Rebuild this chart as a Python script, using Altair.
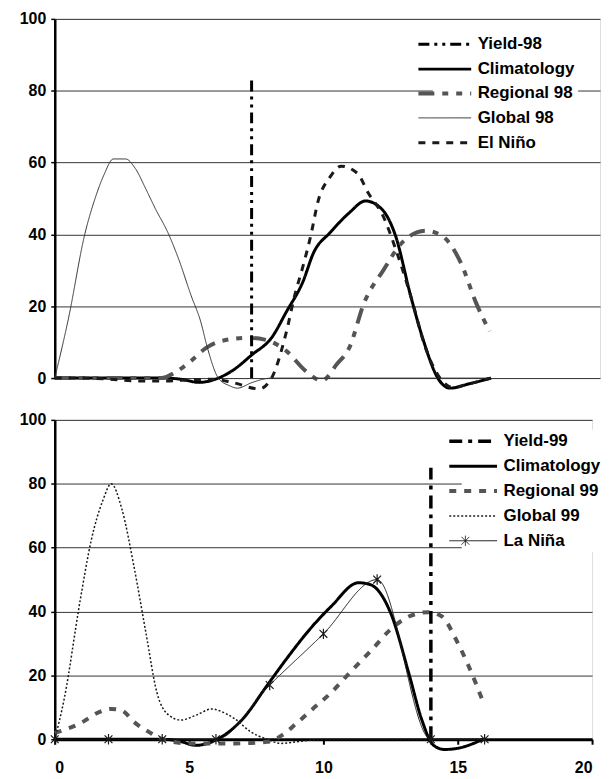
import altair as alt
import pandas as pd

FONT = "Liberation Sans"

# ---------------- 1998 panel ----------------
series98 = ["Yield-98", "Climatology", "Regional 98", "Global 98", "El Niño"]
colors98 = ["#000000", "#000000", "#555555", "#333333", "#1a1a1a"]
dashes98 = [[11, 5, 3, 5, 3, 5], [1, 0], [16, 8, 6, 8, 6, 8], [1, 0], [7, 7]]
widths98 = [3, 3, 4, 1, 3]

yield98_x = [7.22, 7.22]
yield98_y = [0, 84]

clim98_x = [0, 1, 2, 3, 4, 4.6, 5.3, 6.0, 6.5, 7.25, 7.95, 8.5, 9.1, 9.5, 10.1, 10.8,
            11.4, 12.0, 12.5, 13.05, 13.5, 14.05, 14.5, 15.2, 16]
clim98_y = [0, 0, 0, 0, 0, -0.3, -1.2, 0, 2, 6.6, 11.2, 18.5, 26.8, 35, 40.5, 46,
            49.3, 47, 39.6, 23, 11, 0, -2.8, -1.6, 0]

reg98_x = [0, 1, 2, 3, 3.9, 4.5, 5.0, 5.55, 6.1, 7.1, 7.7, 8.5, 9.2, 9.8, 10.35, 10.8,
           11.35, 12.05, 12.75, 13.6, 14.2, 14.9, 15.45, 15.95]
reg98_y = [0, 0, 0, 0, 0, 2, 4.8, 8.4, 10.3, 11.2, 10.7, 7.5, 2, -0.7, 3.9, 8.4,
           21, 30, 37.8, 41, 39.6, 32, 21, 13]

glob98_x = [0, 0.5, 1.1, 1.5, 1.8, 2.15, 2.6, 2.95, 3.35, 3.7, 4.15, 4.55, 5.0, 5.35,
            5.6, 6.0, 6.4, 6.7, 7.25, 7.95, 9, 12, 16]
glob98_y = [0, 16.5, 40, 50.5, 56.5, 61, 61, 58.4, 52.5, 47, 40.5, 33, 23, 15.8,
            8.4, 0, -2.1, -2.8, -1.2, 0, 0, 0, 0]

nino_x = [0, 1, 2, 3, 4, 5, 5.8, 6.5, 7.5, 7.95, 8.5, 8.8, 9.1, 9.4, 9.65, 10.1, 10.5,
          11.1, 11.5, 12.05, 12.5, 13.05, 13.6, 14.2, 14.6, 15.2, 16]
nino_y = [0, 0, -0.3, -0.8, -0.8, -0.5, -0.3, -1.2, -3, 0, 13, 23, 31, 40, 49, 56, 59,
          57, 51.5, 45, 36, 23, 8.4, -0.7, -2.6, -1.6, 0]

# ---------------- 1999 panel ----------------
series99 = ["Yield-99", "Climatology", "Regional 99", "Global 99", "La Niña"]
colors99 = ["#000000", "#000000", "#555555", "#1a1a1a", "#1a1a1a"]
dashes99 = [[13, 6, 4, 6], [1, 0], [7, 8], [2, 2], [1, 0]]
widths99 = [3.5, 3, 4, 1.5, 1]

yield99_x = [14, 14]
yield99_y = [0, 85]

clim99_x = [0, 1, 2, 3, 4, 4.6, 5.25, 6.05, 7.0, 7.9, 8.7, 9.45, 10.3, 11.3, 11.75,
            12.5, 13.2, 13.65, 14.1, 14.5, 14.95, 15.95]
clim99_y = [0, 0, 0, 0, 0, -0.5, -1.9, 0, 6.4, 16.8, 26, 34, 41.7, 49, 48.4,
            39.6, 20, 6.4, -1.9, -3.2, -2.9, 0]

reg99_x = [0, 0.95, 1.65, 2.1, 2.5, 2.95, 3.5, 4.0, 5.0, 6.0, 6.7, 7.9, 8.45, 9.0, 9.6,
           10.3, 11.0, 11.8, 12.5, 13.2, 13.9, 14.4, 14.95, 15.4, 15.95]
reg99_y = [2, 5, 8.5, 9.5, 9, 5.4, 2.3, 0, -1.3, -1.3, -1.3, -0.8, 1.2, 5, 9.5,
           14.7, 21, 28, 34.4, 38.5, 39.8, 38.5, 31, 23, 11.6]

glob99_x = [0, 0.35, 0.95, 1.35, 1.8, 2.1, 2.5, 2.95, 3.4, 3.8, 4.25, 4.7, 5.25, 5.85,
            6.1, 6.7, 7.3, 7.9, 8.4, 9.0, 10, 12, 14, 16]
glob99_y = [0, 12.6, 43.7, 62, 75, 80, 72, 54, 33, 14.7, 7.5, 6, 7.5, 9.5,
            9, 6.4, 2.3, 0, -1.3, -0.8, 0, 0, 0, 0]

nina_x = [0, 2, 4, 6, 8, 10, 12, 14, 16]
nina_y = [0, 0, 0, 0, 17, 33, 50, 0, 0]

y_ticks = [0, 20, 40, 60, 80, 100]
x_ticks = [0, 5, 10, 15, 20]

ASTERISK = "M0,-1L0,1M-0.75,-0.75L0.75,0.75M-0.75,0.75L0.75,-0.75"
LEG_LINE = "M-4,0L4,0"
LEG_LINE_STAR = ("M-4,0L4,0M-1.3,-0.85L-1.3,0.85M-1.95,-0.65L-0.65,0.65"
                 "M-1.95,0.65L-0.65,-0.65")


def frame(name, xs, ys):
    return pd.DataFrame({"series": name, "x": xs, "y": ys})


y_axis = alt.Axis(values=y_ticks, title=None, labelFont=FONT, labelFontSize=16,
                  labelFontWeight="bold", labelColor="black", labelPadding=5,
                  tickSize=4, tickColor="black", tickWidth=1.5,
                  domainColor="black", domainWidth=2.5,
                  gridColor="#333333", gridWidth=1)

x_axis_bottom = alt.Axis(values=x_ticks, title=None, grid=False, labelFont=FONT,
                         labelFontSize=16, labelFontWeight="bold", labelColor="black",
                         labelPadding=15, tickSize=5, tickWidth=2, tickColor="black",
                         domainColor="black", domainWidth=3)

X_SCALE = alt.Scale(domain=[0, 20], nice=False)
Y_SCALE = alt.Scale(domain=[0, 100], nice=False)


def make_legend(legend_x, legend_y, sym_size, label_offset):
    return alt.Legend(title=None, orient="none", legendX=legend_x, legendY=legend_y,
                      symbolType=LEG_LINE, symbolSize=sym_size, symbolOpacity=1,
                      labelFont=FONT, labelFontSize=17, labelFontWeight="bold",
                      labelColor="black", fillColor="white", padding=3, rowPadding=7,
                      labelOffset=label_offset, labelLimit=200)


def panel(series, colors, dashes, widths, yield_df, curve_df, width, height,
          x_axis, legend, extra=None):
    if x_axis is None:
        xenc = alt.X("x:Q", scale=X_SCALE, axis=None)
    else:
        xenc = alt.X("x:Q", scale=X_SCALE, axis=x_axis)
    enc = dict(
        x=xenc,
        y=alt.Y("y:Q", scale=Y_SCALE, axis=y_axis),
        color=alt.Color("series:N", scale=alt.Scale(domain=series, range=colors),
                        legend=legend),
        strokeDash=alt.StrokeDash("series:N",
                                  scale=alt.Scale(domain=series, range=dashes),
                                  legend=legend),
        strokeWidth=alt.StrokeWidth("series:N",
                                    scale=alt.Scale(type="ordinal", domain=series,
                                                    range=widths),
                                    legend=legend),
    )
    curves = alt.Chart(curve_df).mark_line(interpolate="monotone", strokeCap="butt").encode(**enc)
    yl = alt.Chart(yield_df).mark_line(strokeCap="butt").encode(
        order=alt.Order("y:Q"), **enc)
    layers = [curves, yl]
    if extra is not None:
        layers.extend(extra)
    return alt.layer(*layers).properties(width=width, height=height)


top_curves = pd.concat([
    frame("Climatology", clim98_x, clim98_y),
    frame("Regional 98", reg98_x, reg98_y),
    frame("Global 98", glob98_x, glob98_y),
    frame("El Niño", nino_x, nino_y),
], ignore_index=True)
top_yield = frame("Yield-98", yield98_x, yield98_y)

bot_curves = pd.concat([
    frame("Climatology", clim99_x, clim99_y),
    frame("Regional 99", reg99_x, reg99_y),
    frame("Global 99", glob99_x, glob99_y),
    frame("La Niña", nina_x, nina_y),
], ignore_index=True)
bot_yield = frame("Yield-99", yield99_x, yield99_y)

legend98 = make_legend(380, 14, 176, 24)
legend99 = make_legend(409, 10, 144, 22)

nina_pts = alt.Chart(frame("La Niña", nina_x, nina_y)).mark_point(
    shape=ASTERISK, size=110, filled=False, stroke="#1a1a1a", strokeWidth=1.2, opacity=1
).encode(
    x=alt.X("x:Q", scale=X_SCALE),
    y=alt.Y("y:Q", scale=Y_SCALE),
)

# invisible layer that only contributes the legend symbol shapes (asterisk for La Niña)
legend_shapes = alt.Chart(frame("La Niña", nina_x, nina_y)).transform_filter(
    "false"
).mark_point(filled=False, opacity=1).encode(
    x=alt.X("x:Q", scale=X_SCALE),
    y=alt.Y("y:Q", scale=Y_SCALE),
    shape=alt.Shape("series:N",
                    scale=alt.Scale(domain=series99,
                                    range=[LEG_LINE, LEG_LINE, LEG_LINE, LEG_LINE,
                                           LEG_LINE_STAR]),
                    legend=legend99),
)

top = panel(series98, colors98, dashes98, widths98, top_yield, top_curves,
            548, 361, None, legend98)
bottom = panel(series99, colors99, dashes99, widths99, bot_yield, bot_curves,
               540, 321, x_axis_bottom, legend99, extra=[nina_pts, legend_shapes])

chart = alt.vconcat(top, bottom, spacing=42, bounds="flush").resolve_scale(
    color="independent", strokeDash="independent", strokeWidth="independent",
    shape="independent"
).resolve_legend(
    color="independent", strokeDash="independent", strokeWidth="independent",
    shape="independent"
).properties(
    padding={"left": 10, "top": 0, "right": 0, "bottom": 0}
).configure_view(stroke=None).configure(font=FONT)

chart.save("out.html", embed_options={"renderer": "svg", "actions": False})
